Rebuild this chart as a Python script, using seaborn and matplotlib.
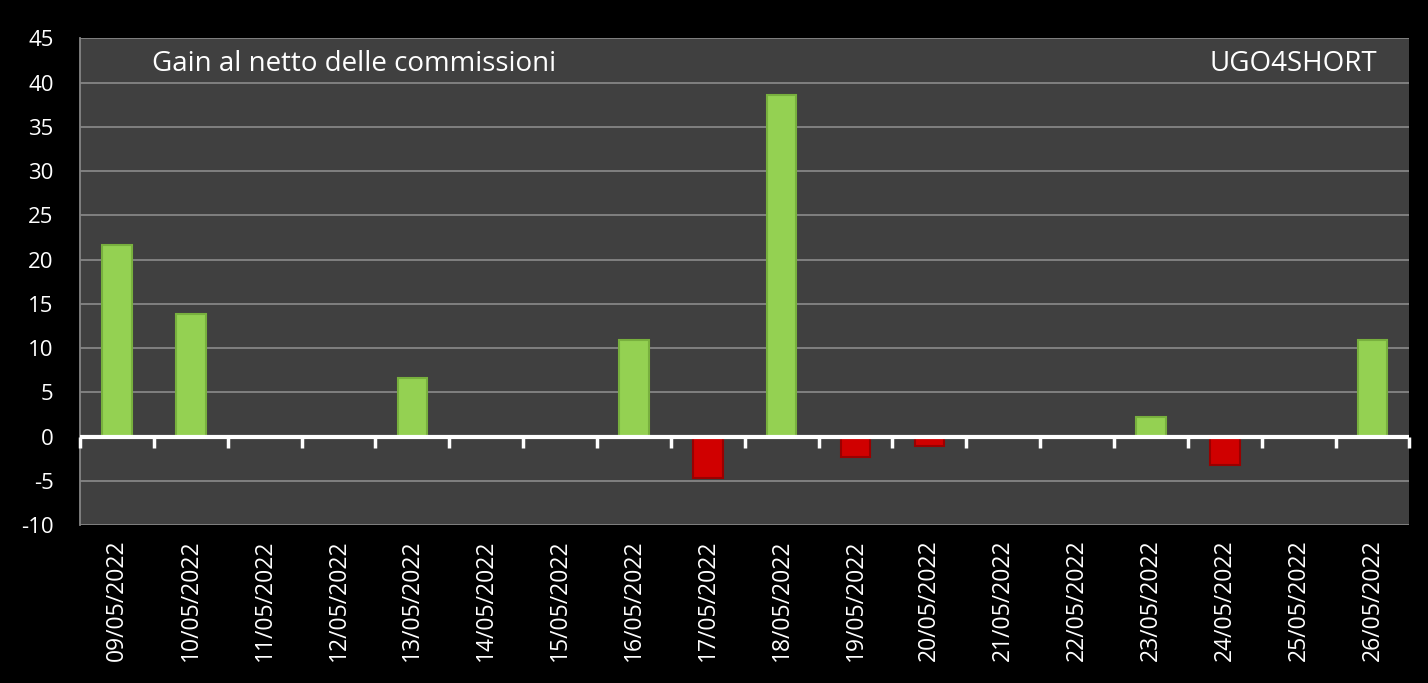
import numpy as np
import pandas as pd
import matplotlib
matplotlib.use('Agg')
import matplotlib.pyplot as plt
import seaborn as sns

# Dati: gain giornaliero al netto delle commissioni
date = ['09/05/2022', '10/05/2022', '11/05/2022', '12/05/2022', '13/05/2022',
        '14/05/2022', '15/05/2022', '16/05/2022', '17/05/2022', '18/05/2022',
        '19/05/2022', '20/05/2022', '21/05/2022', '22/05/2022', '23/05/2022',
        '24/05/2022', '25/05/2022', '26/05/2022']
gain = [21.6, 13.9, 0, 0, 6.6, 0, 0, 10.9, -4.7, 38.6,
        -2.3, -1.1, 0, 0, 2.2, -3.2, 0, 10.9]
y_ticks = list(range(-10, 50, 5))

df = pd.DataFrame({'Data': date, 'Gain': gain})
df['Segno'] = np.where(df['Gain'] < 0, 'neg', 'pos')

sns.set_style('dark')
plt.rcParams['font.family'] = ['Open Sans', 'DejaVu Sans']
plt.rcParams['axes.unicode_minus'] = False

verde = '#94d152'
rosso = '#d00000'

fig = plt.figure(figsize=(14.28, 6.83), dpi=100, facecolor='black')
ax = fig.add_axes([0.056, 0.231, 0.931, 0.713])
ax.set_facecolor('#404040')

sns.barplot(data=df, x='Data', y='Gain', hue='Segno',
            palette={'pos': verde, 'neg': rosso}, saturation=1,
            width=0.4, legend=False, ax=ax, linewidth=0)
for bar in ax.patches:
    neg = bar.get_height() < 0
    bar.set_edgecolor('#9a0000' if neg else '#78b03e')
    bar.set_linewidth(1.5)
    bar.set_zorder(2)

ax.set_xlim(-0.5, len(date) - 0.5)
ax.set_ylim(-10, 45)
ax.set_yticks(y_ticks)
ax.yaxis.grid(True, color='#858585', linewidth=1.3)
ax.xaxis.grid(False)
ax.set_axisbelow(True)
ax.axhline(0, color='white', linewidth=3, zorder=3)

for s in ['top', 'right', 'bottom']:
    ax.spines[s].set_visible(False)
ax.spines['left'].set_color('#858585')
ax.spines['left'].set_linewidth(1.3)

ax.tick_params(axis='y', colors='white', labelsize=16, length=7,
               width=1.3, direction='out', color='#858585', pad=12)
ax.tick_params(axis='x', colors='white', labelsize=16.5, length=0, pad=10)
plt.setp(ax.get_xticklabels(), rotation=90)
ax.set_xlabel('')
ax.set_ylabel('')

# tacche sull'asse dello zero
ax2 = ax.twiny()
ax2.set_xlim(ax.get_xlim())
ax2.set_xticks(np.arange(-0.5, len(date), 1))
ax2.set_xticklabels([])
ax2.xaxis.set_ticks_position('bottom')
ax2.spines['bottom'].set_position(('data', 0))
for s in ax2.spines.values():
    s.set_visible(False)
ax2.tick_params(axis='x', colors='white', length=8, width=2.5, direction='out')

ax.text(0.054, 0.948, 'Gain al netto delle commissioni', transform=ax.transAxes,
        color='white', fontsize=20, va='center', ha='left')
ax.text(0.976, 0.948, 'UGO4SHORT', transform=ax.transAxes,
        color='white', fontsize=20, va='center', ha='right')

fig.savefig('out.png', dpi=100, facecolor='black')
